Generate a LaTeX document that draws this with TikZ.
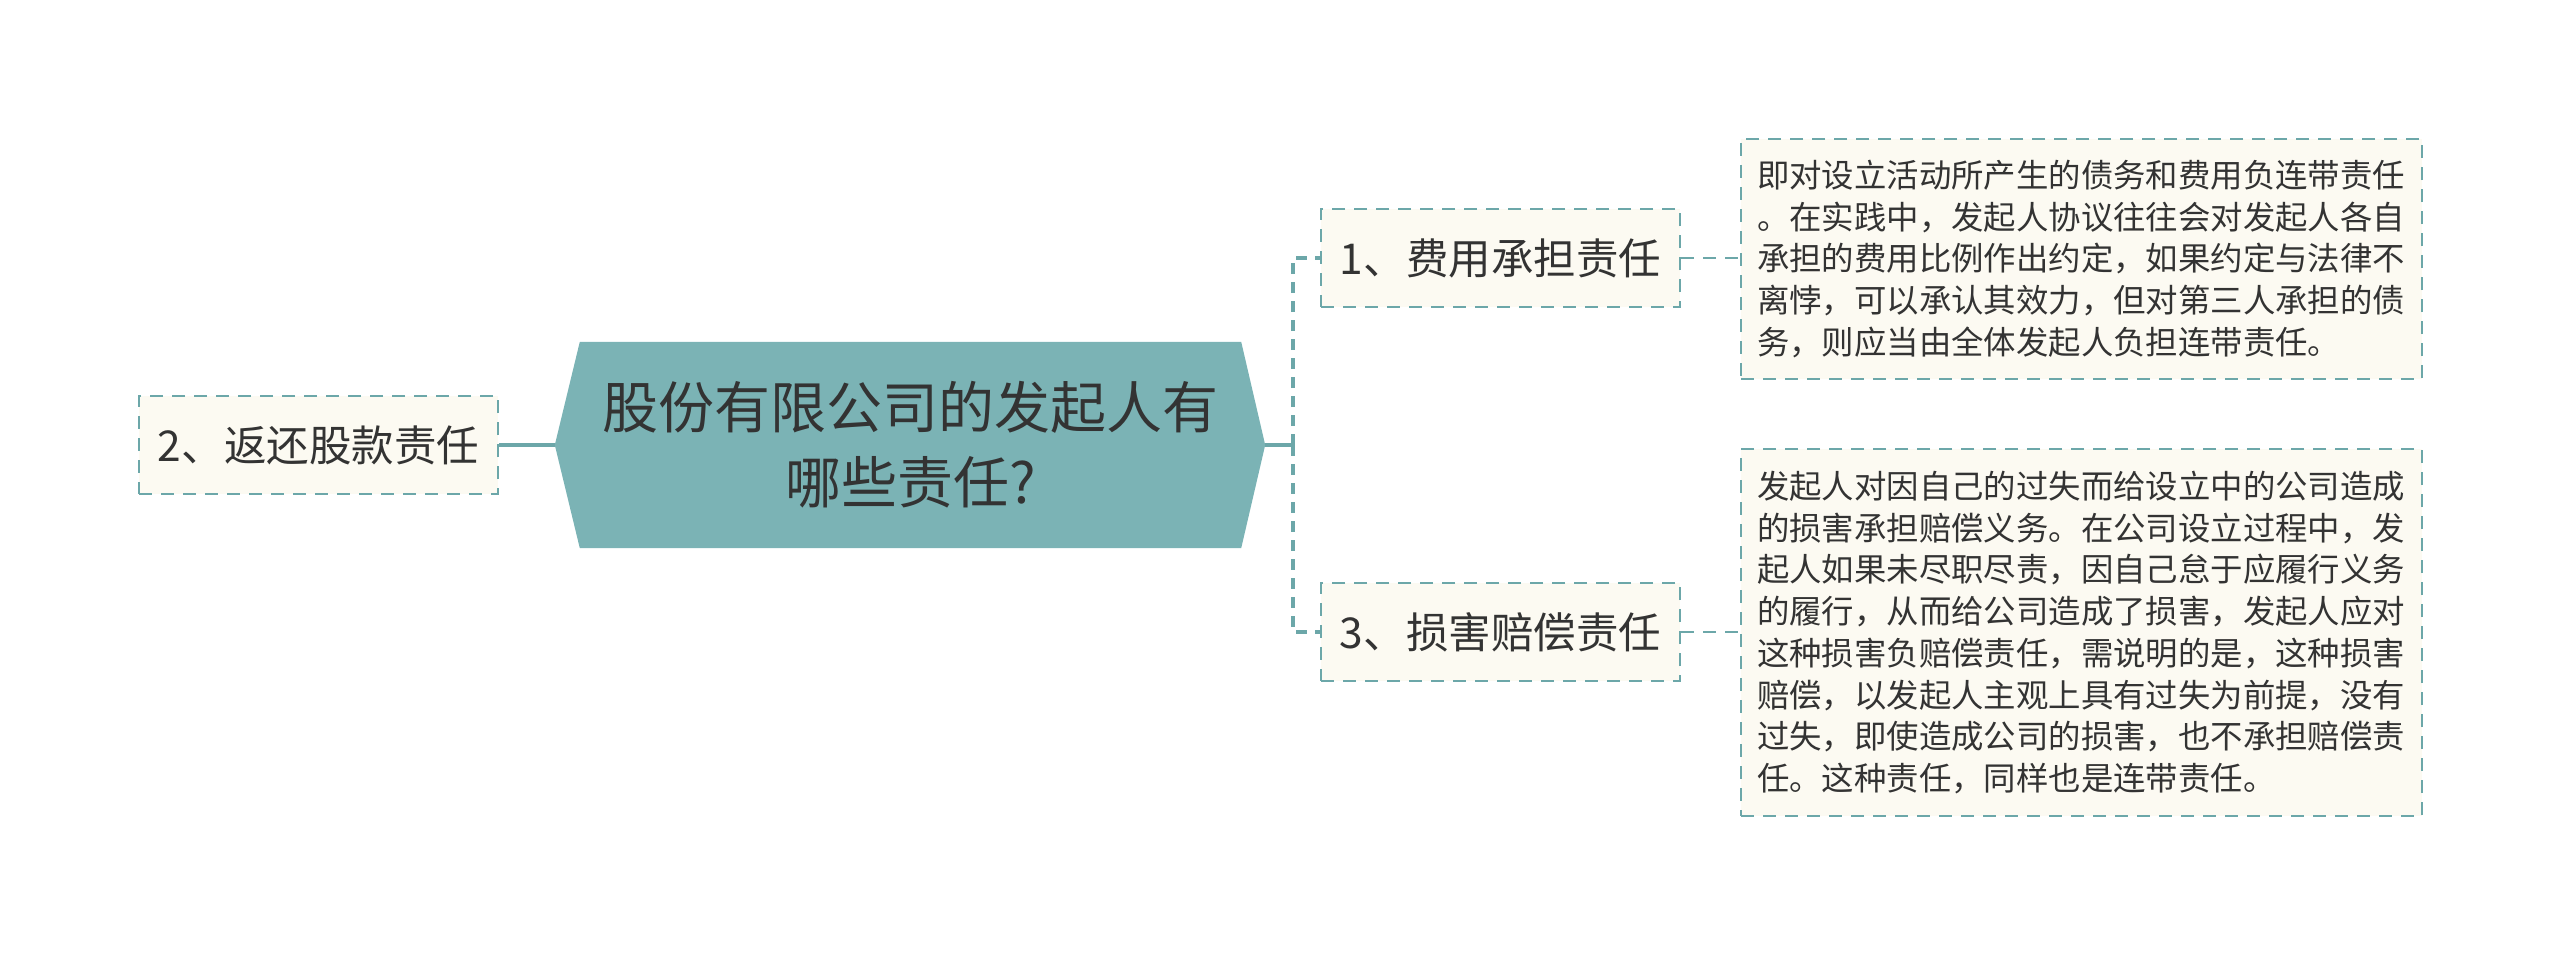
\documentclass[tikz,border=0pt]{standalone}
\usepackage{fontspec}
\newfontfamily\cjk{Noto Sans CJK SC}
\usetikzlibrary{calc}
\definecolor{hubfill}{HTML}{7BB3B5}
\definecolor{edge}{HTML}{6CA7A9}
\definecolor{cream}{HTML}{FCFAF2}
\definecolor{ink}{HTML}{333333}
\tikzset{
  leaf/.style={draw=edge, fill=cream, line width=2.4pt, dash pattern=on 13pt off 9pt,
    inner sep=0pt, minimum width=359pt, minimum height=98pt,
    font=\cjk\fontsize{42.5pt}{50pt}\selectfont, text=ink},
  note/.style={draw=edge, fill=cream, line width=2pt, dash pattern=on 13pt off 9pt,
    inner sep=0pt, minimum width=681pt, text width=649pt, align=left,
    font=\cjk\fontsize{32.4pt}{41.7pt}\selectfont, text=ink},
  solidlink/.style={draw=edge, line width=4.5pt},
  dashlink/.style={draw=edge, line width=4.5pt, dash pattern=on 11pt off 8pt},
  thinlink/.style={draw=edge, line width=2.4pt, dash pattern=on 13pt off 9pt},
}
\begin{document}
\begin{tikzpicture}[x=1pt,y=-1pt]
\useasboundingbox (0,0) rectangle (2560,955);
% central topic
\node[inner sep=0pt, minimum width=661pt, minimum height=206pt] (c) at (910.5,445) {};
\coordinate (ltip) at ($(c.west)+(-25,0)$);
\coordinate (rtip) at ($(c.east)+(24,0)$);
\fill[hubfill] (c.north west) -- (c.north east) -- (rtip) -- (c.south east) -- (c.south west) -- (ltip) -- cycle;
\node[align=center, text=ink, font=\cjk\fontsize{56pt}{75pt}\selectfont] (ct) at (c.center) {股份有限公司的发起人有\\哪些责任?};
% branches
\node[leaf] (n2) at (318.5,445) {2、返还股款责任};
\node[leaf] (n1) at (1500.5,258) {1、费用承担责任};
\node[leaf] (n3) at (1500.5,632) {3、损害赔偿责任};
% notes
\node[note, minimum height=240pt] (b1) at (2081.5,259) {即对设立活动所产生的债务和费用负连带责任\\。在实践中，发起人协议往往会对发起人各自\\承担的费用比例作出约定，如果约定与法律不\\离悖，可以承认其效力，但对第三人承担的债\\务，则应当由全体发起人负担连带责任。};
\node[note, minimum height=367pt] (b2) at (2081.5,632.5) {发起人对因自己的过失而给设立中的公司造成\\的损害承担赔偿义务。在公司设立过程中，发\\起人如果未尽职尽责，因自己怠于应履行义务\\的履行，从而给公司造成了损害，发起人应对\\这种损害负赔偿责任，需说明的是，这种损害\\赔偿，以发起人主观上具有过失为前提，没有\\过失，即使造成公司的损害，也不承担赔偿责\\任。这种责任，同样也是连带责任。};
% connectors
\coordinate (j) at (1293,445);
\draw[solidlink] (ltip) -- (n2.east);
\draw[solidlink] (rtip) -- (j);
\draw[dashlink] (j) |- (n1.west);
\draw[dashlink] (j) |- (n3.west);
\draw[thinlink] (n1.east) -- (b1.west |- n1.east);
\draw[thinlink] (n3.east) -- (b2.west |- n3.east);
\end{tikzpicture}
\end{document}
